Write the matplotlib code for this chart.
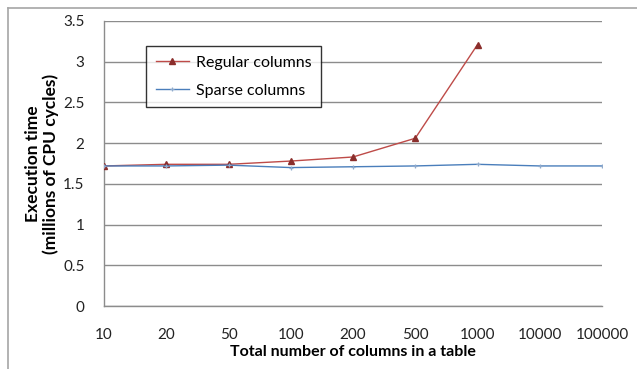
import matplotlib.pyplot as plt
from matplotlib.lines import Line2D

# column counts shown as evenly spaced categories
columns = ['10', '20', '50', '100', '200', '500', '1000', '10000', '100000']
regular = [1.72, 1.74, 1.74, 1.78, 1.83, 2.06, 3.21]
sparse = [1.72, 1.72, 1.73, 1.70, 1.71, 1.72, 1.74, 1.72, 1.72]
y_ticks = [0, 0.5, 1, 1.5, 2, 2.5, 3, 3.5]
y_labels = ['0', '0.5', '1', '1.5', '2', '2.5', '3', '3.5']

plt.rcParams['font.family'] = ['Lato', 'DejaVu Sans']

fig = plt.figure(figsize=(6.37, 3.69), dpi=100)
ax = fig.add_axes([104 / 637, 63 / 369, 498 / 637, 285 / 369])

red = '#BE4B48'
blue = '#4A7EBB'

ax.plot(range(len(regular)), regular, color=red, lw=1.0, marker='^',
        ms=4.5, mfc='#8B2E2C', mec='#8B2E2C', label='Regular columns', zorder=3)
ax.plot(range(len(sparse)), sparse, color=blue, lw=1.0, marker='+',
        ms=3.5, mew=0.9, mec='#8FAACC', label='Sparse columns', zorder=3)

ax.set_xlim(0, len(columns) - 1)
ax.set_ylim(0, 3.5)
ax.set_xticks(range(len(columns)))
ax.set_xticklabels(columns)
ax.set_yticks(y_ticks)
ax.set_yticklabels(y_labels)
ax.tick_params(length=0, labelsize=11, colors='#222222')
ax.tick_params(axis='x', pad=16)
ax.tick_params(axis='y', pad=14)
ax.grid(axis='y', color='#8C8C8C', lw=1.0)
ax.set_axisbelow(True)
for side in ['top', 'right']:
    ax.spines[side].set_visible(False)
for side in ['left', 'bottom']:
    ax.spines[side].set_color('#8C8C8C')
    ax.spines[side].set_linewidth(1.0)

ax.set_xlabel('Total number of columns in a table', fontsize=11.5,
              fontweight='bold', labelpad=2)
ax.set_ylabel('Execution time\n(millions of CPU cycles)', fontsize=12.5,
              fontweight='bold', labelpad=3, linespacing=1.1)

leg = ax.legend(loc='upper left', bbox_to_anchor=(42 / 498, 1 - 25 / 285),
                fontsize=11.5, frameon=True, fancybox=False, edgecolor='black',
                handlelength=2.1, labelspacing=0.85, borderpad=0.6,
                handletextpad=0.4, borderaxespad=0)
leg.get_frame().set_linewidth(1.0)

# outer chart frame, clipped on the right and bottom
fig.add_artist(Line2D([8 / 637, 1], [1 - 8 / 369, 1 - 8 / 369],
                      color='#A6A6A6', lw=1.2, transform=fig.transFigure))
fig.add_artist(Line2D([8 / 637, 8 / 637], [0, 1 - 8 / 369],
                      color='#A6A6A6', lw=1.2, transform=fig.transFigure))

fig.savefig('out.png', dpi=100)
